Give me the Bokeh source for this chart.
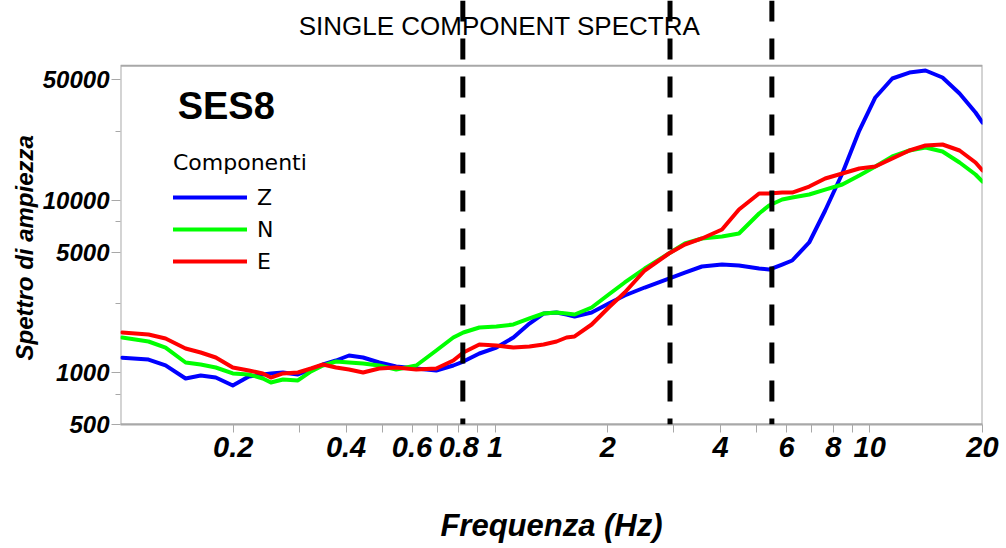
from bokeh.plotting import figure
from bokeh.models import Range1d, FixedTicker, Span, Label, Legend, LegendItem, CustomJSTickFormatter, Title
from bokeh.embed import file_html
from bokeh.resources import INLINE

# ---- data ----
freq = [0.101, 0.1188, 0.1319, 0.1492, 0.1637, 0.1796, 0.1994, 0.2201, 0.2399, 0.2520,
        0.2714, 0.2976, 0.3225, 0.3471, 0.3761, 0.4074, 0.4442, 0.4903, 0.5443, 0.6158,
        0.6965, 0.7734, 0.8226, 0.9078, 1.008, 1.119, 1.235, 1.347, 1.459, 1.551,
        1.630, 1.810, 2.010, 2.218, 2.508, 2.909, 3.210, 3.565, 4.033, 4.477,
        5.066, 5.386, 5.837, 6.209, 6.893, 7.605, 8.447, 9.380, 10.35, 11.49,
        12.76, 14.09, 15.64, 17.37, 19.16, 20.0]
amp_z = [1220, 1190, 1100, 924, 962, 936, 842, 949, 975, 988,
         1001, 975, 1042, 1114, 1175, 1256, 1223, 1144, 1085, 1056,
         1028, 1099, 1159, 1290, 1397, 1597, 1925, 2200, 2230, 2171,
         2114, 2230, 2514, 2798, 3113, 3510, 3803, 4120, 4231, 4175,
         4011, 3958, 4231, 4464, 5677, 8700, 14260, 25310, 39330, 50670,
         54890, 56400, 51350, 41480, 32190, 28160]
amp_n = [1597, 1514, 1397, 1144, 1114, 1070, 988, 975, 924, 876,
         912, 900, 1015, 1099, 1159, 1144, 1129, 1099, 1042, 1099,
         1343, 1597, 1708, 1825, 1850, 1900, 2059, 2200, 2230, 2200,
         2171, 2383, 2835, 3329, 4011, 4901, 5601, 5989, 6151, 6401,
         8362, 9303, 10080, 10350, 10770, 11510, 12310, 13880, 15650, 17890,
         19380, 20170, 19120, 16510, 14070, 12810]
amp_e = [1708, 1662, 1576, 1379, 1307, 1223, 1070, 1028, 988, 936,
         988, 1001, 1056, 1114, 1070, 1042, 1001, 1056, 1070, 1042,
         1056, 1175, 1307, 1455, 1435, 1397, 1416, 1455, 1514, 1597,
         1619, 1900, 2383, 2912, 3906, 4901, 5527, 5989, 6748, 8818,
         10915, 10915, 11060, 11060, 11980, 13340, 14260, 15240, 15650, 17420,
         19380, 20720, 21000, 19380, 16510, 14840]
components = ["Z", "N", "E"]
colors = ["#0000ff", "#00ff00", "#ff0000"]
x_ticks = [0.2, 0.4, 0.6, 0.8, 1, 2, 4, 6, 8, 10, 20]
x_minor = [0.3, 0.5, 0.7, 0.9, 3, 5, 7, 9]
y_ticks = [500, 1000, 5000, 10000, 50000]
y_minor = [750, 2500, 7500, 25000]
dividers = [0.82, 2.93, 5.48]
x_min, x_max = 0.1, 20
y_min, y_box_top, y_canvas_top = 500, 60000, 143550

FONT = "Liberation Sans"
GRAY = "#a8a8a8"

p = figure(width=1006, height=548, output_backend="svg", toolbar_location=None,
           x_axis_type="log", y_axis_type="log",
           x_range=Range1d(x_min, x_max), y_range=Range1d(y_min, y_canvas_top),
           min_border_left=120, min_border_right=24, min_border_top=0, min_border_bottom=124,
           background_fill_color="white", border_fill_color="white")
p.outline_line_color = None
p.xgrid.visible = False
p.ygrid.visible = False

fmt = CustomJSTickFormatter(code="return String(tick);")

xa = p.xaxis[0]
xa.ticker = FixedTicker(ticks=x_ticks, minor_ticks=x_minor)
xa.formatter = fmt
xa.axis_line_color = GRAY
xa.axis_line_width = 2
xa.major_tick_line_color = GRAY
xa.minor_tick_line_color = GRAY
xa.major_tick_in = 0
xa.major_tick_out = 8
xa.minor_tick_in = 0
xa.minor_tick_out = 8
xa.major_label_text_font = FONT
xa.major_label_text_font_style = "bold italic"
xa.major_label_text_font_size = "29px"
xa.major_label_text_color = "black"
xa.major_label_standoff = 4
xa.axis_label = "Frequenza (Hz)"
xa.axis_label_text_font = FONT
xa.axis_label_text_font_style = "bold italic"
xa.axis_label_text_font_size = "31px"
xa.axis_label_text_color = "black"
xa.axis_label_standoff = 48

ya = p.yaxis[0]
ya.ticker = FixedTicker(ticks=y_ticks, minor_ticks=y_minor)
ya.formatter = fmt
ya.axis_line_color = None
ya.major_tick_line_color = GRAY
ya.minor_tick_line_color = GRAY
ya.major_tick_in = 0
ya.major_tick_out = 9
ya.minor_tick_in = 0
ya.minor_tick_out = 5
ya.major_label_text_font = FONT
ya.major_label_text_font_style = "bold italic"
ya.major_label_text_font_size = "24px"
ya.major_label_text_color = "black"
ya.major_label_standoff = 2

# y-axis title placed as a side title so it can be centred on the plot box
ytitle = Title(text="Spettro di ampiezza", align="left", offset=64,
               text_font=FONT, text_font_style="bold italic", text_font_size="24px",
               text_color="black", standoff=4)
p.add_layout(ytitle, "left")

# plot box
p.quad(left=[x_min], right=[x_max], bottom=[y_min], top=[y_box_top],
       fill_color=None, line_color=GRAY, line_width=2)

series = [amp_z, amp_n, amp_e]
renderers = []
for name, col, vals in zip(components, colors, series):
    r = p.line(freq, vals, line_color=col, line_width=4, line_join="round", line_cap="round")
    renderers.append(r)

title = Label(x=1.027, y=102800, text="SINGLE COMPONENT SPECTRA", text_align="center",
              text_baseline="alphabetic", text_font=FONT, text_font_size="26px",
              text_color="black")
p.add_layout(title)

ses = Label(x=0.1421, y=35340, text="SES8", text_align="left", text_baseline="alphabetic",
            text_font=FONT, text_font_style="bold", text_font_size="38px", text_color="black")
p.add_layout(ses)

for d in dividers:
    p.add_layout(Span(location=d, dimension="height", line_color="black",
                      line_width=5, line_dash="21 17"))

legend = Legend(items=[LegendItem(label=n, renderers=[r]) for n, r in zip(components, renderers)],
                location=(53, 147), title="Componenti",
                title_text_font="DejaVu Sans", title_text_font_size="22px",
                title_text_font_style="normal", title_text_color="black", title_standoff=6,
                label_text_font="DejaVu Sans", label_text_font_size="22px",
                label_text_color="black",
                glyph_width=74, glyph_height=32, label_height=32, spacing=0,
                padding=0, margin=0, label_standoff=10,
                border_line_color=None, background_fill_alpha=0)
p.add_layout(legend)

open("out.html", "w").write(file_html(p, INLINE))
